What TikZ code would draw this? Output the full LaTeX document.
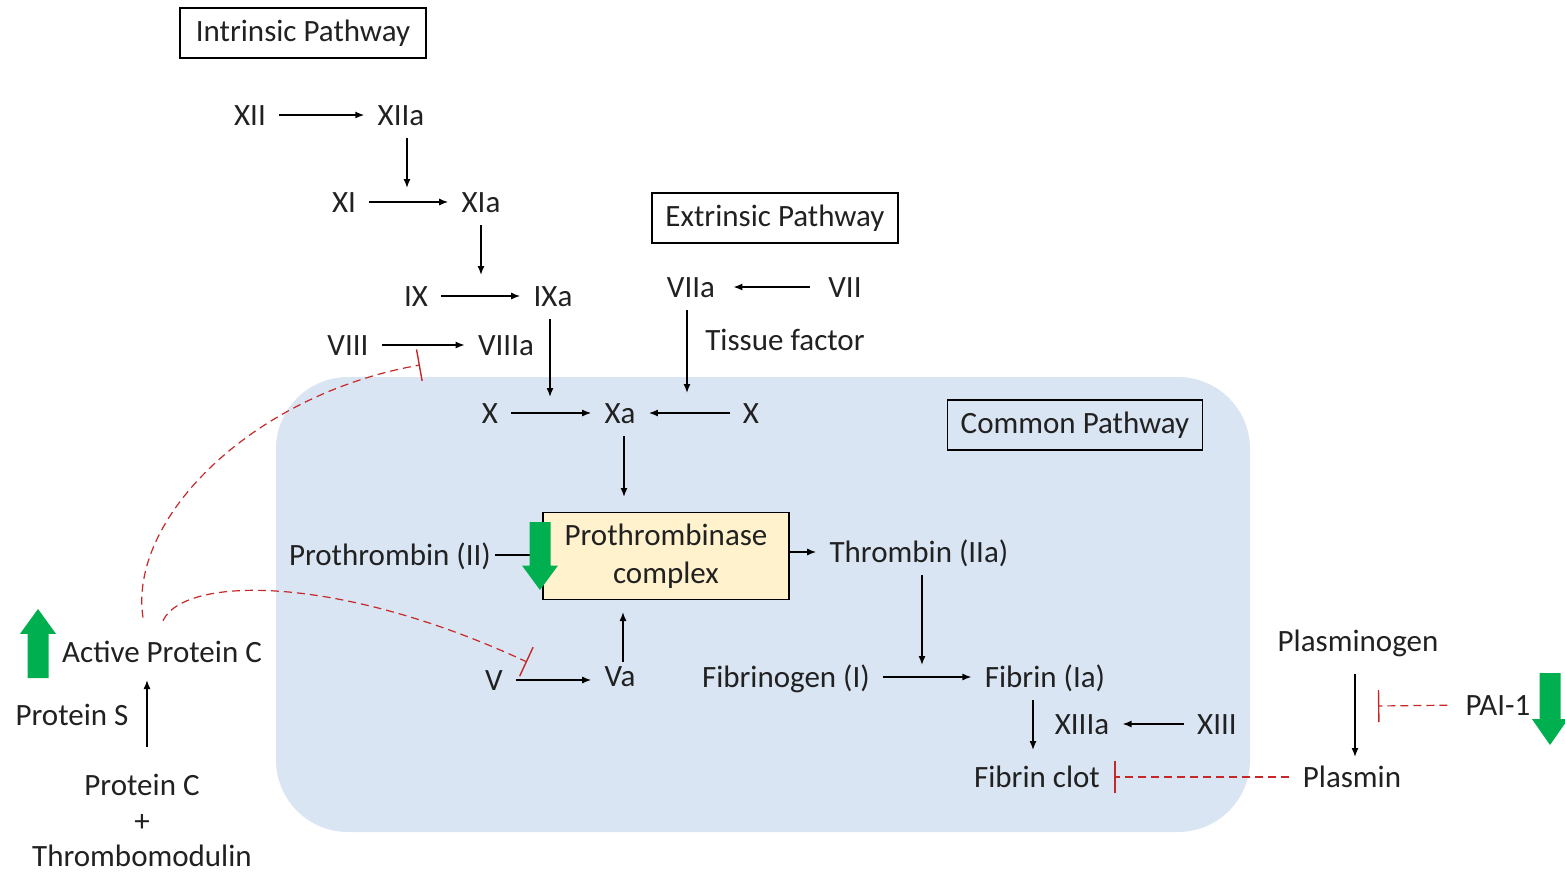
\documentclass[tikz,border=0pt]{standalone}
\usepackage{fontspec}
\setmainfont{Carlito}
\usetikzlibrary{arrows.meta,calc}

\definecolor{commonblue}{HTML}{DAE5F3}
\definecolor{ptcyellow}{HTML}{FFF2CC}
\definecolor{upgreen}{HTML}{00B050}
\definecolor{inhibred}{HTML}{C62828}

\newcommand\greenarrow[3]{%
  \fill[upgreen] (#1-10.5,#3) -- (#1-10.5,{#2+0.36*(#3-#2)}) -- (#1-18,{#2+0.36*(#3-#2)})
    -- (#1,#2) -- (#1+18,{#2+0.36*(#3-#2)}) -- (#1+10.5,{#2+0.36*(#3-#2)}) -- (#1+10.5,#3) -- cycle;}

\tikzset{
  factor/.style={inner sep=2pt, text height=10pt, text depth=0pt},
  title/.style={draw, line width=0.6pt, minimum width=123pt, minimum height=25pt, inner sep=0pt},
  flow/.style={-{Latex[length=4.5pt,width=3.5pt]}, line width=0.7pt, shorten <=4.5pt, shorten >=4.5pt},
  drop/.style={flow, shorten >=0pt},
  inhib/.style={-{Bar[width=16pt,line width=0.7pt]}, inhibred, line width=0.6pt, dash pattern=on 4pt off 2.5pt},
}

\begin{document}
\begin{tikzpicture}[x=0.5pt, y=-0.5pt, font=\fontsize{15.5}{18.6}\selectfont, text=black!87]
  \useasboundingbox (0,0) rectangle (1565,874);
  \fill[commonblue, rounded corners=36pt] (276,377) rectangle (1250,832);

  \node[title] (intr) at (303,33) {Intrinsic Pathway};
  \node[title] (extr) at (775,218) {Extrinsic Pathway};
  \node[title, minimum width=127.5pt] (comm) at (1075,425) {Common Pathway};

  \node[factor] (xii) at (250,115) {XII};
  \node[factor] (xiia) at (401,115) {XIIa};
  \node[factor] (xi) at (344,202) {XI};
  \node[factor] (xia) at (481,202) {XIa};
  \node[factor] (ix) at (416,296) {IX};
  \node[factor] (ixa) at (553,296) {IXa};
  \node[factor] (viii) at (348,345) {VIII};
  \node[factor] (viiia) at (506,345) {VIIIa};
  \node[factor] (viia) at (691,287) {VIIa};
  \node[factor] (vii) at (845,287) {VII};
  \node[factor] (tf) at (785,340) {Tissue factor};
  \node[factor] (xl) at (490,413) {X};
  \node[factor] (xa) at (620,413) {Xa};
  \node[factor] (xr) at (751,413) {X};
  \node[draw, fill=ptcyellow, line width=0.6pt, minimum width=123pt, minimum height=43.5pt,
    align=center, font=\fontsize{15.5}{19}\selectfont] (ptc) at (666,556) {Prothrombinase\\complex};
  \node[factor] (pro) at (390,555) {Prothrombin (II)};
  \node[factor] (thr) at (919,552) {Thrombin (IIa)};
  \node[factor] (v) at (494,680) {V};
  \node[factor] (va) at (620,676) {Va};
  \node[factor] (fbg) at (786,677) {Fibrinogen (I)};
  \node[factor] (fib) at (1045,677) {Fibrin (Ia)};
  \node[factor] (xiiia) at (1082,724) {XIIIa};
  \node[factor] (xiii) at (1217,724) {XIII};
  \node[factor] (clot) at (1037,777) {Fibrin clot};
  \node[factor] (plg) at (1358,641) {Plasminogen};
  \node[factor] (plm) at (1352,777) {Plasmin};
  \node[factor] (pai) at (1498,705) {PAI-1};
  \node[factor] (apc) at (162,652) {Active Protein C};
  \node[factor] (ps) at (72,715) {Protein S};
  \node[factor] (pc) at (142,785) {Protein C};
  \node[factor] (plus) at (142,821) {+};
  \node[factor] (tm) at (142,856) {Thrombomodulin};

  \coordinate (j1) at (407,188);
  \coordinate (j2) at (481,275);
  \coordinate (j3) at (550,397);
  \coordinate (j4) at (687,393);
  \coordinate (j5) at (624,497);
  \coordinate (j6) at (922,665);
  \coordinate (j7) at (1033,750);
  \coordinate (j8) at (623,612);
  \coordinate (j9) at (147,680);
  \coordinate (j10) at (1355,757);
  \coordinate (j11) at (1378,706);
  \coordinate (k1) at (420,365);
  \coordinate (k2) at (527,662);

  \draw[flow] (xii) -- (xiia);
  \draw[drop] (j1 |- xiia.south) -- (j1);
  \draw[flow] (xi) -- (xia);
  \draw[drop] (j2 |- xia.south) -- (j2);
  \draw[flow] (ix) -- (ixa);
  \draw[flow] (viii) -- (viiia);
  \draw[drop] (j3 |- ixa.south) -- (j3);
  \draw[flow, shorten <=7pt, shorten >=7pt] (vii) -- (viia);
  \draw[drop] (j4 |- viia.south) -- (j4);
  \draw[flow] (xl) -- (xa);
  \draw[flow] (xr) -- (xa);
  \draw[drop] (j5 |- xa.south) -- (j5);
  \draw[line width=0.7pt] (pro.east) -- (ptc.west |- pro);
  \draw[flow, shorten <=0pt] (ptc.east |- thr) -- (thr);
  \draw[drop] (j6 |- thr.south) -- (j6);
  \draw[flow] (fbg) -- (fib);
  \draw[drop] (j7 |- fib.south) -- (j7);
  \draw[flow] (xiii) -- (xiiia);
  \draw[drop, shorten <=0pt] (j8 |- va.north) -- (j8);
  \draw[flow] (v) -- (va.west |- v);
  \draw[drop, shorten <=12pt] (j9 |- pc.north) -- (j9);
  \draw[drop, shorten <=9.5pt] (j10 |- plg.south) -- (j10);

  \draw[inhib, shorten <=4.5pt, shorten >=5pt] (plm.west) -- (clot.east);
  \draw[inhib, shorten <=7pt] (pai.west) -- (j11);
  \draw[inhib] ($(apc.north)+(-19,-20)$) .. controls (128,520) and (250,395) .. (k1);
  \draw[inhib] ($(apc.north)+(1,-17)$) .. controls (185,575) and (340,575) .. (k2);

  \greenarrow{38}{609}{678}
  \greenarrow{540}{590}{522}
  \greenarrow{1550}{745}{673}
\end{tikzpicture}
\end{document}
